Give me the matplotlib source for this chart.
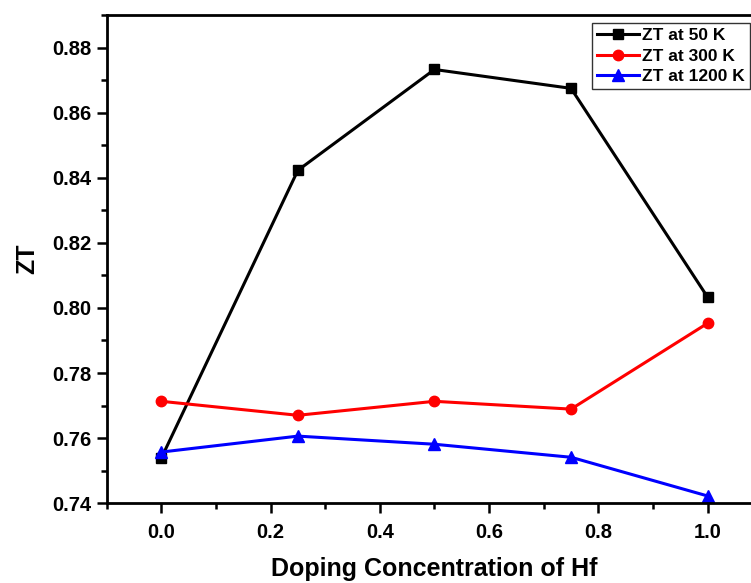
import matplotlib
matplotlib.use("Agg")
import matplotlib.pyplot as plt
from matplotlib.ticker import MultipleLocator, FormatStrFormatter

plt.rcParams['font.family'] = ['Liberation Sans', 'DejaVu Sans']
plt.rcParams['font.weight'] = 'bold'

doping = [0.0, 0.25, 0.5, 0.75, 1.0]
zt_50 = [0.7538, 0.8423, 0.8733, 0.8675, 0.8033]
zt_300 = [0.7713, 0.7670, 0.7713, 0.7689, 0.7953]
zt_1200 = [0.7557, 0.7606, 0.7581, 0.7541, 0.7422]
labels = ["ZT at 50 K", "ZT at 300 K", "ZT at 1200 K"]

fig = plt.figure(figsize=(7.51, 5.83), dpi=100)
ax = fig.add_axes([0.142, 0.137, 0.873, 0.837])

ax.plot(doping, zt_50, color='black', marker='s', lw=2.2, ms=7, label=labels[0])
ax.plot(doping, zt_300, color='red', marker='o', lw=2.2, ms=7.5, label=labels[1])
ax.plot(doping, zt_1200, color='blue', marker='^', lw=2.2, ms=8.5, label=labels[2])

ax.set_xlim(-0.1, 1.1)
ax.set_ylim(0.74, 0.89)
ax.xaxis.set_major_locator(MultipleLocator(0.2))
ax.xaxis.set_minor_locator(MultipleLocator(0.1))
ax.yaxis.set_major_locator(MultipleLocator(0.02))
ax.yaxis.set_minor_locator(MultipleLocator(0.01))
ax.xaxis.set_major_formatter(FormatStrFormatter('%.1f'))
ax.yaxis.set_major_formatter(FormatStrFormatter('%.2f'))
ax.tick_params(which='major', direction='out', length=7, width=1.8, labelsize=14.5, pad=4)
ax.tick_params(which='minor', direction='out', length=4, width=1.8)
ax.tick_params(axis='x', which='major', pad=7)
for s in ax.spines.values():
    s.set_linewidth(2)

ax.set_xlabel("Doping Concentration of Hf", fontsize=18, fontweight='bold', labelpad=11)
ax.set_ylabel("ZT", fontsize=18, fontweight='bold', labelpad=9)

leg = ax.legend(loc='upper right', bbox_to_anchor=(749.5 / 751, 1 - 23 / 583),
                bbox_transform=fig.transFigure, fontsize=12.5,
                frameon=True, fancybox=False, edgecolor='black', handlelength=2.4,
                handletextpad=0.15, borderpad=0.3, labelspacing=0.3, borderaxespad=0)
leg.get_frame().set_linewidth(1.0)
for t in leg.get_texts():
    t.set_fontweight('bold')

fig.savefig("out.png", dpi=100)
